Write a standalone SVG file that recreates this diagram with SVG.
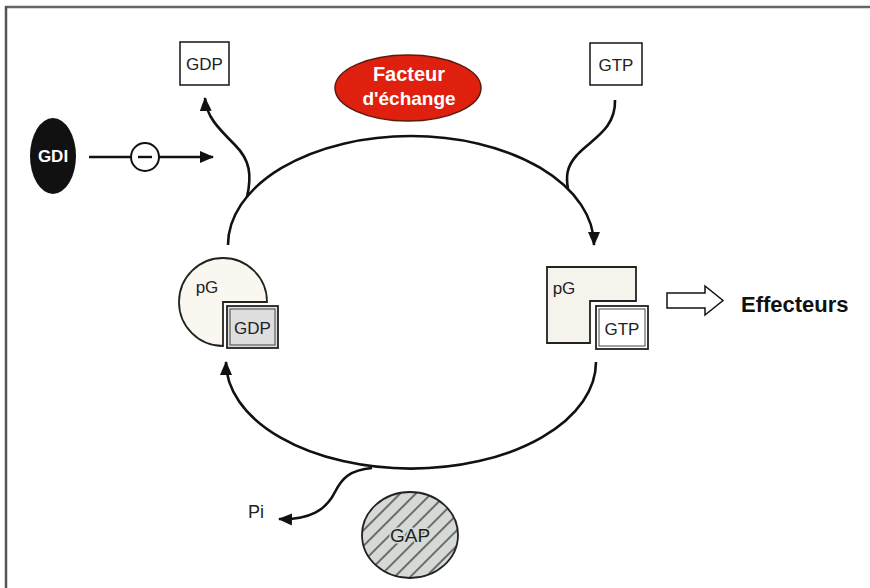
<svg xmlns="http://www.w3.org/2000/svg" width="870" height="588" viewBox="0 0 870 588">
<style>
  .t { font-family: "Liberation Sans", Arial, sans-serif; fill: #222; }
  .b { font-weight: bold; }
  .ln { fill: none; stroke: #111; stroke-width: 2.6; }
  .box { fill: #fff; stroke: #222; stroke-width: 1.6; }
</style>
<defs>
  <marker id="ah" markerUnits="userSpaceOnUse" markerWidth="16" markerHeight="14" refX="13" refY="7" orient="auto" viewBox="0 0 16 14">
    <path d="M0,1 L14,7 L0,13 Z" fill="#111"/>
  </marker>
  <pattern id="hatch" patternUnits="userSpaceOnUse" width="11" height="11" patternTransform="rotate(45)">
    <line x1="5" y1="0" x2="5" y2="11" stroke="#222" stroke-width="1.2"/>
  </pattern>
</defs>
<rect width="870" height="588" fill="#fff"/>
<g id="frame">
  <line x1="5" y1="7" x2="870" y2="7" stroke="#666" stroke-width="2.5"/>
  <line x1="6" y1="6" x2="6" y2="588" stroke="#555" stroke-width="2.5"/>
</g>
<g id="connectors">
  <path class="ln" d="M228,245 A183,109 0 0 1 594,245" marker-end="url(#ah)"/>
  <path class="ln" d="M596,362 A184,106 0 0 1 226,362" marker-end="url(#ah)"/>
  <path class="ln" d="M247,197 C252,175 250,160 235,145 C218,128 206,116 205,98" marker-end="url(#ah)"/>
  <path class="ln" d="M615,100 C616,130 590,140 577,155 C566,167 566,177 568,189"/>
  <path class="ln" d="M372,468 C350,470 342,478 335,492 C326,510 310,520 279,519" marker-end="url(#ah)"/>
  <line class="ln" x1="89" y1="157" x2="213" y2="157" marker-end="url(#ah)"/>
  <g id="inhibit">
    <circle cx="145" cy="157" r="14" fill="#fff" stroke="#111" stroke-width="2"/>
    <line x1="138" y1="157" x2="152" y2="157" stroke="#111" stroke-width="2.4"/>
  </g>
  <polygon points="667,293 705,293 705,286 723,300.5 705,315 705,308 667,308" fill="#fff" stroke="#111" stroke-width="1.5"/>
</g>
<g id="gdi">
  <ellipse cx="53" cy="156" rx="23" ry="38" fill="#111"/>
  <text class="t b" x="53" y="162" font-size="17" text-anchor="middle" style="fill:#fff">GDI</text>
</g>
<g id="gdp-out">
  <rect class="box" x="180" y="42" width="49" height="43"/>
  <text class="t" x="204.5" y="70" font-size="17" text-anchor="middle">GDP</text>
</g>
<g id="facteur">
  <ellipse cx="408" cy="88" rx="73" ry="33" fill="#e0200f" stroke="#5a1a10" stroke-width="1.5"/>
  <text class="t b" x="409" y="81" font-size="20" text-anchor="middle" style="fill:#fff">Facteur</text>
  <text class="t b" x="409" y="105" font-size="19" text-anchor="middle" style="fill:#fff">d'échange</text>
</g>
<g id="gtp-in">
  <rect class="box" x="590" y="43" width="52" height="42"/>
  <text class="t" x="616" y="71" font-size="17" text-anchor="middle">GTP</text>
</g>
<g id="pg-gdp">
  <path d="M223,302 L267,302 A44,44 0 1 0 223,346 Z" fill="#faf6f0" stroke="#222" stroke-width="1.8"/>
  <text class="t" x="207" y="293" font-size="17" text-anchor="middle">pG</text>
  <rect x="227" y="306" width="51" height="42" fill="#dedede" stroke="#222" stroke-width="1.8"/>
  <rect x="230" y="309" width="45" height="36" fill="none" stroke="#444" stroke-width="1"/>
  <text class="t" x="252.5" y="334" font-size="17" text-anchor="middle">GDP</text>
</g>
<g id="pg-gtp">
  <path d="M547,267 L636,267 L636,301 L590,301 L590,343 L547,343 Z" fill="#f6f2ec" stroke="#222" stroke-width="1.8"/>
  <text class="t" x="564" y="294" font-size="17" text-anchor="middle">pG</text>
  <rect x="596" y="306" width="52" height="43" fill="#fff" stroke="#222" stroke-width="1.8"/>
  <rect x="599" y="309" width="46" height="37" fill="none" stroke="#444" stroke-width="1"/>
  <text class="t" x="622" y="335" font-size="17" text-anchor="middle">GTP</text>
</g>
<g id="effecteurs">
  <text class="t b" x="741" y="312" font-size="22" style="fill:#111">Effecteurs</text>
</g>
<g id="pi">
  <text class="t" x="248" y="518" font-size="18">Pi</text>
</g>
<g id="gap">
  <ellipse cx="410" cy="535" rx="48" ry="43" fill="#d6dad6"/>
  <ellipse cx="410" cy="535" rx="48" ry="43" fill="url(#hatch)" stroke="#222" stroke-width="1.8"/>
  <text class="t" x="410" y="542" font-size="19" text-anchor="middle" stroke="#d6dad6" stroke-width="3" paint-order="stroke">GAP</text>
</g>
</svg>
